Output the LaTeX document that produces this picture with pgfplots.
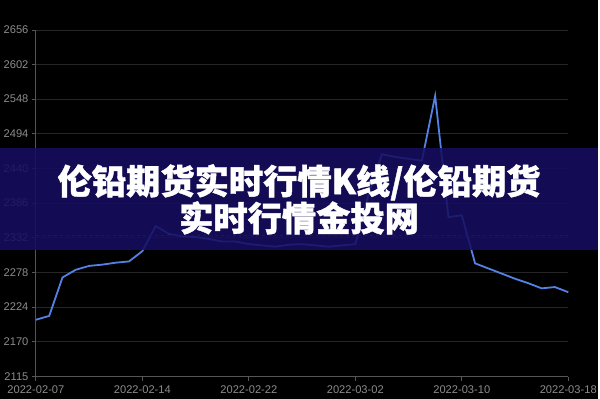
\documentclass[border=0pt]{standalone}
\usepackage{fontspec}
\setmainfont{Liberation Sans}
\newfontfamily\cjk{Noto Sans CJK SC}[BoldFeatures={FakeBold=1.2}]
\usepackage{pgfplots}
\pgfplotsset{compat=1.18}
\definecolor{gridc}{RGB}{38,38,38}
\definecolor{axisc}{RGB}{85,85,85}
\definecolor{tickc}{RGB}{140,140,140}
\definecolor{linec}{RGB}{84,130,228}
\definecolor{bandc}{RGB}{22,14,96}
\definecolor{avgc}{RGB}{130,60,150}
\begin{document}
\begin{tikzpicture}[x=1bp,y=1bp]
\fill[black] (0,0) rectangle (600,400);
\begin{axis}[
  at={(36bp,22bp)}, anchor=south west,
  scale only axis, width=534bp, height=348bp,
  xmin=0, xmax=40, ymin=2115, ymax=2656,
  xtick={0,8,16,24,32,40},
  xticklabels={2022-02-07,2022-02-14,2022-02-22,2022-03-02,2022-03-10,2022-03-18},
  ytick={2115,2170,2224,2278,2332,2386,2440,2494,2548,2602,2656},
  yticklabels={2115,2170,2224,2278,2332,2386,2440,2494,2548,2602,2656},
  axis x line*=bottom, axis y line*=left,
  axis line style={axisc, line width=0.8bp, -},
  ymajorgrids, grid style={gridc, line width=0.8bp},
  major tick length=4bp, tick align=outside,
  tick style={axisc, line width=0.8bp},
  ticklabel style={tickc, font=\fontsize{11.2}{13}\selectfont},
  xticklabel style={yshift=-1bp},
  clip=false,
]
\addplot[linec, line width=1.8bp, mark=none] coordinates {
(0,2204) (1,2210) (2,2270) (3,2282) (4,2288) (5,2290) (6,2293) (7,2295)
(8,2311) (9,2350) (10,2338) (11,2334) (12,2333) (13,2330) (14,2326) (15,2326)
(16,2322) (17,2320) (18,2318) (19,2321) (20,2322) (21,2320) (22,2318) (23,2320)
(24,2322) (25,2400) (26,2462) (27,2458) (28,2455) (29,2452) (30,2553) (31,2364)
(32,2367) (33,2292) (34,2284) (35,2276) (36,2268) (37,2261) (38,2253) (39,2255) (40,2247)
};
\addplot[avgc, line width=0.9bp, dashed, mark=none] coordinates {(0,2335) (40,2335)};
\end{axis}
\fill[bandc, opacity=0.88] (0,149) rectangle (600,252);
\node[white, align=center, font=\cjk\bfseries\fontsize{34.5}{35}\selectfont] at (300,200)
  {伦铅期货实时行情K线/伦铅期货\\实时行情金投网};
\path[use as bounding box] (0,0) rectangle (600,400);
\end{tikzpicture}
\end{document}
